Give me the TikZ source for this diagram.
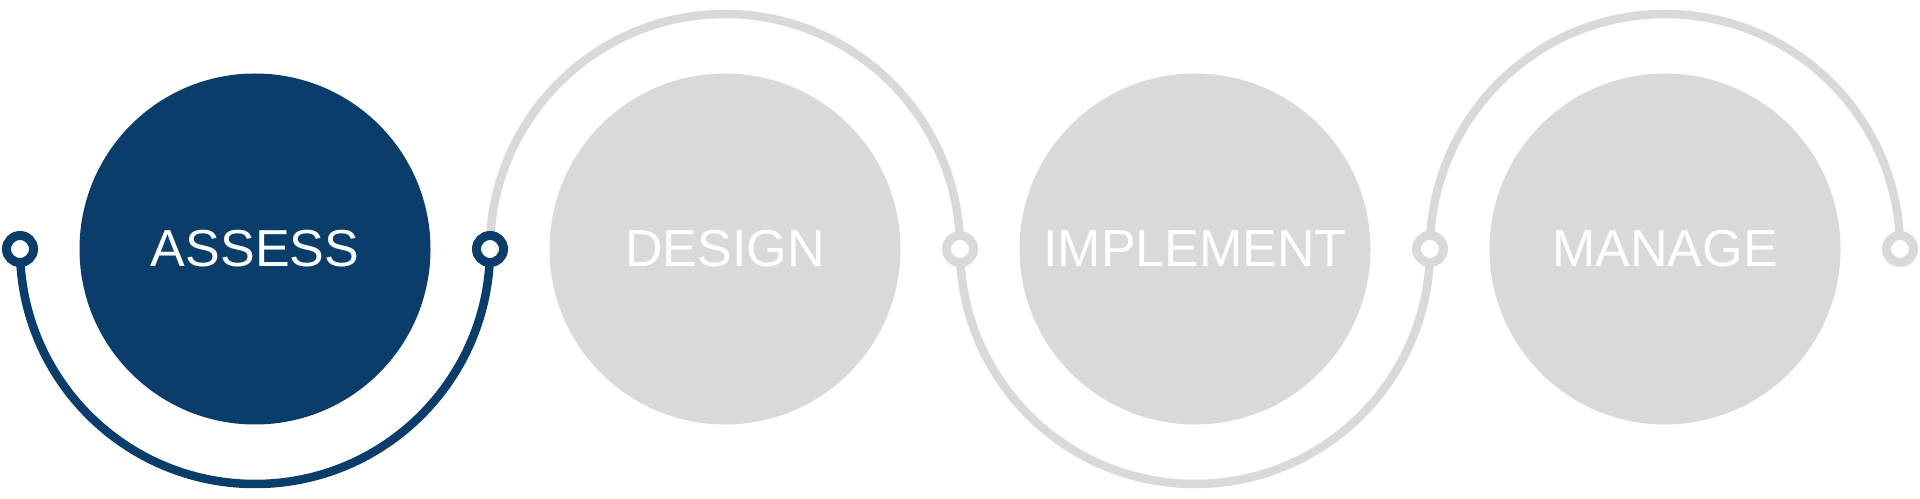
\documentclass[tikz,border=0pt]{standalone}
\usepackage{fontspec}
\setmainfont{Liberation Sans}
\usepackage{xcolor}
\usepackage{tikz}
\usetikzlibrary{backgrounds}
\definecolor{phaseblue}{HTML}{0B3D6B}
\definecolor{phasegray}{HTML}{D9D9D9}
\tikzstyle{phase} = [circle, minimum size=7.02cm, inner sep=0pt, text=white, font=\fontsize{29.6pt}{35pt}\selectfont]
\tikzstyle{joint} = [circle, draw, fill=white, minimum size=0.54cm, inner sep=0pt, line width=0.18cm]
\tikzstyle{track} = [draw, line width=0.17cm]

\begin{document}
\begin{tikzpicture}
\useasboundingbox (0,0) rectangle (38.4,9.96);

\node at (5.1, 4.98) [phase, fill=phaseblue] (Assess) {ASSESS};
\node at (14.5, 4.98) [phase, fill=phasegray] (Design) {DESIGN};
\node at (23.9, 4.98) [phase, fill=phasegray] (Implement) {IMPLEMENT};
\node at (33.3, 4.98) [phase, fill=phasegray] (Manage) {MANAGE};

\node at (0.4, 4.98) [joint, draw=phaseblue] (j0) {};
\node at (9.8, 4.98) [joint, draw=phaseblue] (j1) {};
\node at (19.2, 4.98) [joint, draw=phasegray] (j2) {};
\node at (28.6, 4.98) [joint, draw=phasegray] (j3) {};
\node at (38.0, 4.98) [joint, draw=phasegray] (j4) {};

\begin{scope}[on background layer]
\path [track, phaseblue] (j0.center) arc [start angle=180, end angle=360, radius=4.7];
\path [track, phasegray] (j1.center) arc [start angle=180, end angle=0, radius=4.7];
\path [track, phasegray] (j2.center) arc [start angle=180, end angle=360, radius=4.7];
\path [track, phasegray] (j3.center) arc [start angle=180, end angle=0, radius=4.7];
\end{scope}
\end{tikzpicture}
\end{document}
